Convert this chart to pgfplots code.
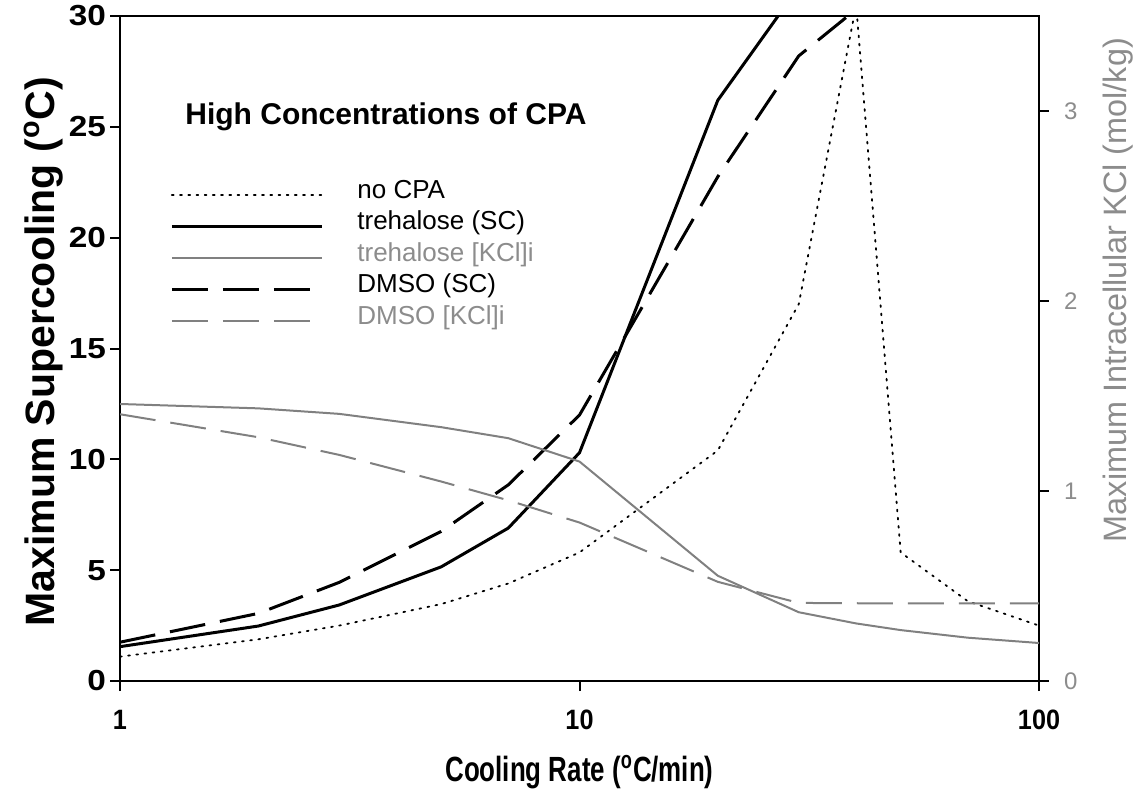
\documentclass[border=0pt]{standalone}
\usepackage{fontspec}
\setmainfont{Liberation Sans}
\newfontfamily\narrowfont[FakeStretch=0.9]{Liberation Sans}
\newfontfamily\xlabfont[FakeStretch=0.74]{Liberation Sans}
\newfontfamily\widefont[FakeStretch=1.15]{Liberation Sans}
\usepackage{pgfplots}
\pgfplotsset{compat=1.18}
\definecolor{kclgray}{gray}{0.5}
\definecolor{txtgray}{gray}{0.55}

\pgfplotstableread{
x y
1 1.1
2 1.88
3 2.5
5 3.47
7 4.4
10 5.8
20 10.4
30 17.0
40 30.5
50 5.8
70 3.6
100 2.5
}\nocpa
\pgfplotstableread{
x y
1 1.55
2 2.48
3 3.43
5 5.15
7 6.9
10 10.3
20 26.2
30 31.3
}\trehsc
\pgfplotstableread{
x y
1 1.75
2 3.05
3 4.45
5 6.75
7 8.85
10 12.0
20 22.75
30 28.2
40 30.3
}\dmsosc
\pgfplotstableread{
x y
1 1.458
2 1.435
3 1.406
5 1.336
7 1.278
10 1.155
20 0.554
30 0.362
40 0.303
50 0.268
70 0.228
100 0.200
}\trehkcl
\pgfplotstableread{
x y
1 1.404
2 1.283
3 1.190
5 1.050
7 0.951
10 0.834
20 0.522
30 0.411
50 0.408
100 0.408
}\dmsokcl

\begin{document}
\begin{tikzpicture}
\begin{axis}[
  at={(0,0)}, anchor=south west,
  scale only axis, width=459.5pt, height=332.5pt,
  xmode=log, xmin=1, xmax=100, ymin=0, ymax=30,
  xtick={1,10,100}, xticklabels={1,10,100}, xminorticks=false,
  ytick={0,5,10,15,20,25,30},
  axis line style={line width=1pt},
  every tick/.style={black, line width=1pt},
  tick align=outside, major tick length=5pt,
  xtick pos=bottom, ytick pos=left,
  /pgf/number format/assume math mode=true,
  yticklabel style={font=\widefont\bfseries\fontsize{14.5}{16}\selectfont, xshift=1.5pt},
  xticklabel style={font=\narrowfont\bfseries\fontsize{14}{16}\selectfont, yshift=-6pt},
  legend cell align=left,
  legend style={at={(axis description cs:0.0544,0.755)}, anchor=north west,
    draw=none, fill=none, inner sep=0pt,
    font=\fontsize{13}{15}\selectfont,
    nodes={inner sep=0pt, text height=9.5pt, text depth=6.25pt},
    /tikz/every odd column/.append style={column sep=17pt}},
  legend image code/.code={\draw[#1] (0pt,0pt) -- (75pt,0pt);},
  clip mode=individual,
]
\addplot[black, line width=0.9pt, dash pattern=on 0.9pt off 3.2pt, line cap=round] table {\nocpa};
\addlegendentry{no CPA}
\addplot[black, line width=1.5pt] table {\trehsc};
\addlegendentry{trehalose (SC)}
\addlegendimage{kclgray, line width=1pt}
\addlegendentry{\textcolor{txtgray}{trehalose [KCl]i}}
\addplot[black, line width=1.5pt, dash pattern=on 18pt off 7.5pt] table {\dmsosc};
\addlegendentry{DMSO (SC)}
\addlegendimage{kclgray, line width=1pt, dash pattern=on 18pt off 7.5pt}
\addlegendentry{\textcolor{txtgray}{DMSO [KCl]i}}
\node[anchor=west, inner sep=0pt, font=\bfseries\fontsize{15}{18}\selectfont] at (axis description cs:0.0707,0.848) {High Concentrations of CPA};
\node[font=\xlabfont\bfseries\fontsize{17.5}{21}\selectfont] at (axis description cs:0.5,-0.137) {Cooling Rate (\textsuperscript{o}C/min)};
\node[rotate=90, font=\bfseries\fontsize{20.5}{24}\selectfont] at (axis description cs:-0.0827,0.495) {Maximum Supercooling (\textsuperscript{o}C)};
\end{axis}
\begin{axis}[
  at={(0,0)}, anchor=south west,
  scale only axis, width=459.5pt, height=332.5pt,
  xmode=log, xmin=1, xmax=100, ymin=0, ymax=3.5,
  axis x line=none, axis y line*=right,
  ytick={0,1,2,3},
  axis line style={line width=1pt},
  every tick/.style={black, line width=1pt},
  tick align=outside, major tick length=5pt,
  /pgf/number format/assume math mode=true,
  yticklabel style={txtgray, font=\fontsize{12}{14}\selectfont, xshift=4pt},
  clip mode=individual,
]
\addplot[kclgray, line width=1pt] table {\trehkcl};
\addplot[kclgray, line width=1pt, dash pattern=on 18pt off 7.5pt] table {\dmsokcl};
\node[rotate=90, txtgray, font=\fontsize{16.2}{19}\selectfont] at (axis description cs:1.086,0.588) {Maximum Intracellular KCl (mol/kg)};
\end{axis}
\pgfresetboundingbox
\useasboundingbox (-60pt,-59.5pt) rectangle (512pt,340.5pt);
\end{tikzpicture}
\end{document}
